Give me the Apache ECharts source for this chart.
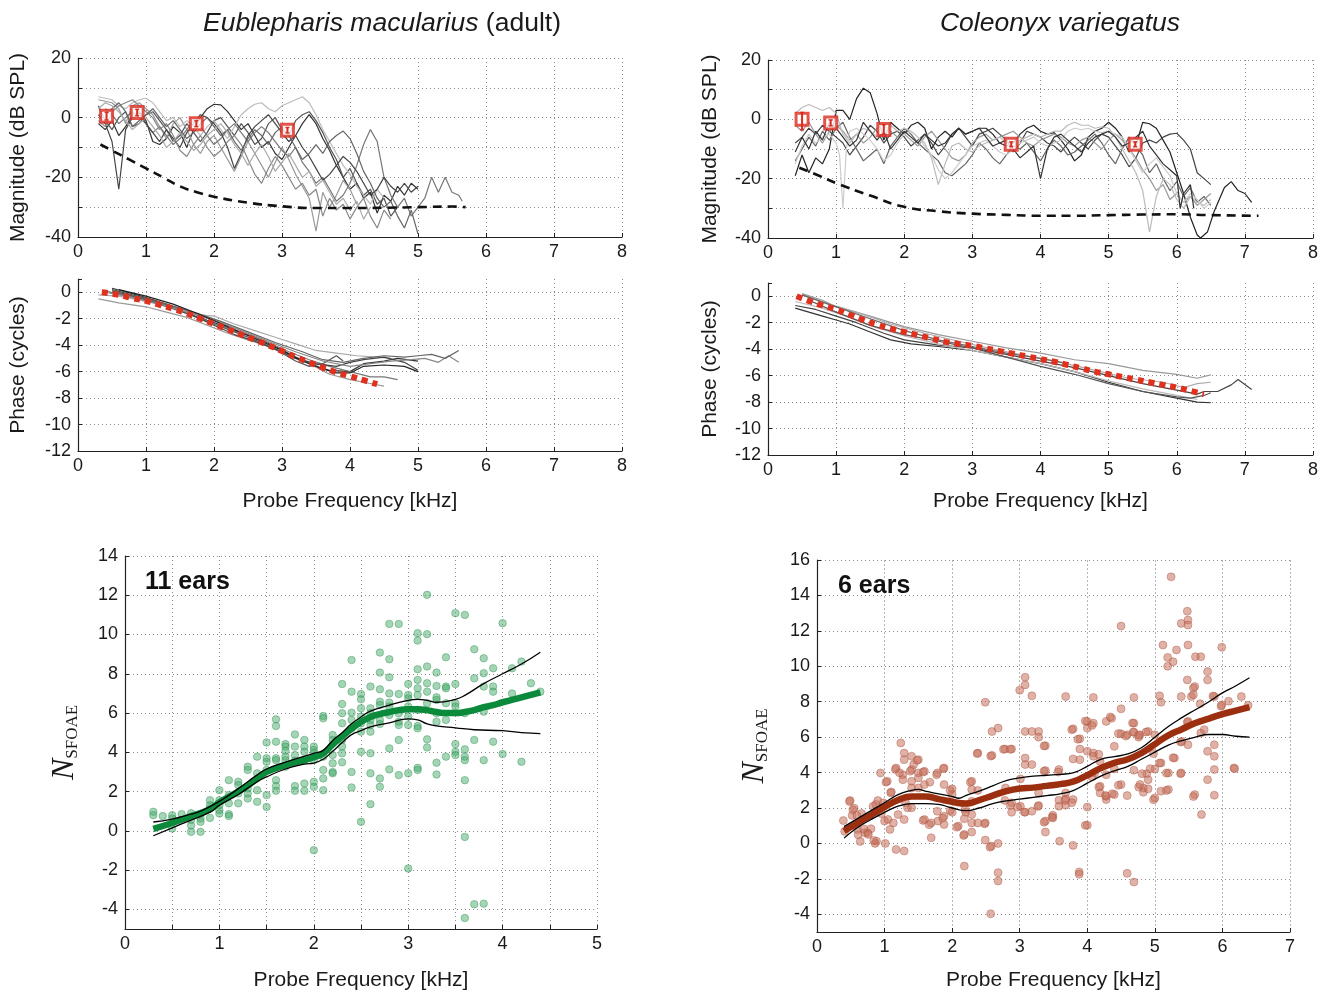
<!DOCTYPE html>
<html><head><meta charset="utf-8">
<script src="https://cdn.jsdelivr.net/npm/echarts@6/dist/echarts.min.js"></script>
<style>html,body{margin:0;padding:0;background:#fff}#c{width:1324px;height:993px}</style>
</head><body><div id="c"></div>
<script>
// ---------- DATA ----------
// Eublepharis magnitude curves [kHz, dB SPL]
const eubMag1 = [[0.3,-2],[0.4,-4],[0.5,-1],[0.6,-6],[0.7,-3],[0.8,1],[0.9,2],[1.0,-1],[1.1,-8],[1.2,-9],[1.3,-7],[1.4,-3],[1.5,-5],[1.6,-10],[1.7,-4],[1.8,0],[1.9,3],[2.0,4.5],[2.1,4.3],[2.2,2],[2.3,-1],[2.4,-4],[2.5,-2],[2.6,-6],[2.7,-10],[2.8,-8],[2.9,-12],[3.0,-14],[3.1,-10],[3.2,-6],[3.3,-2],[3.4,1],[3.5,-2],[3.6,-7],[3.7,-11],[3.8,-16],[3.9,-20],[4.0,-24],[4.1,-22],[4.2,-27],[4.3,-25],[4.4,-32],[4.5,-26],[4.6,-28],[4.7,-23],[4.8,-26],[4.9,-22],[5.0,-24]];
const eubMag2 = [[0.3,4],[0.4,-1],[0.5,-4],[0.6,0],[0.7,2],[0.8,-3],[0.9,-1],[1.0,1],[1.1,2],[1.2,-1],[1.3,-4],[1.4,-8],[1.5,-6],[1.6,-2],[1.7,-5],[1.8,-8],[1.9,-5],[2.0,-1],[2.1,0],[2.2,-3],[2.3,-6],[2.4,-2],[2.5,-5],[2.6,-9],[2.7,-7],[2.8,-2],[2.9,0],[3.0,-4],[3.1,-6],[3.2,-1],[3.3,1],[3.4,2],[3.5,-1],[3.6,-5],[3.7,-10],[3.8,-14],[3.9,-20],[4.0,-17],[4.1,-22],[4.2,-26],[4.3,-24],[4.4,-29],[4.5,-27],[4.6,-33],[4.7,-30]];
const eubMag3 = [[0.3,6],[0.5,5],[0.6,3],[0.7,-2],[0.8,4],[0.9,5],[1.0,3],[1.1,1],[1.2,-3],[1.3,-7],[1.4,-2],[1.5,0],[1.6,-4],[1.7,-9],[1.8,-12],[1.9,-8],[2.0,-6],[2.1,-10],[2.2,-14],[2.3,-18],[2.4,-13],[2.5,-8],[2.6,-12],[2.7,-16],[2.8,-20],[2.9,-15],[3.0,-10],[3.1,-14],[3.2,-19],[3.3,-23],[3.4,-27],[3.5,-38],[3.6,-25],[3.7,-30],[3.8,-26],[3.9,-21],[4.0,-24],[4.1,-29]];
const eubMag4 = [[0.3,7],[0.4,6.5],[0.5,6],[0.6,4],[0.7,3],[0.8,5],[0.9,6],[1.0,6.5],[1.1,5],[1.2,2],[1.3,-1],[1.4,0],[1.5,-3],[1.6,-1],[1.7,-3],[1.8,-6],[1.9,-3],[2.0,-1],[2.1,-4],[2.2,-7],[2.3,-3],[2.4,1],[2.5,3],[2.6,4.5],[2.7,5],[2.8,3],[2.9,2],[3.0,4],[3.1,5],[3.2,6],[3.3,7],[3.4,5],[3.5,1],[3.6,-4],[3.7,-8],[3.8,-12],[3.9,-16],[4.0,-19],[4.1,-23],[4.2,-26],[4.3,-29],[4.4,-24],[4.5,-27]];
const eubMag5 = [[0.4,3],[0.5,1],[0.6,-2],[0.7,0],[0.8,2],[0.9,0],[1.0,-2],[1.1,-5],[1.2,-3],[1.3,-6],[1.4,-9],[1.5,-7],[1.6,-4],[1.7,-1],[1.8,-3],[1.9,-6],[2.0,-9],[2.1,-7],[2.2,-4],[2.3,-2],[2.4,-5],[2.5,-8],[2.6,-5],[2.7,-3],[2.8,-5],[2.9,-8],[3.0,-11],[3.1,-13],[3.2,-10],[3.3,-15],[3.4,-18],[3.5,-22],[3.6,-20],[3.7,-24],[3.8,-28],[3.9,-26],[4.0,-22],[4.1,-16],[4.2,-9],[4.3,-4],[4.4,-8],[4.5,-20],[4.6,-26],[4.7,-30],[4.8,-27],[4.9,-33],[5.0,-30],[5.1,-27],[5.2,-20],[5.3,-25],[5.4,-20],[5.5,-25],[5.6,-26],[5.65,-28]];
const eubMag6 = [[0.3,1],[0.4,-2],[0.5,-8],[0.6,-24],[0.7,-4],[0.8,0],[0.9,1.5],[1.0,-2],[1.1,-5],[1.2,-8],[1.3,-4],[1.4,-7],[1.5,-10],[1.6,-5],[1.7,-2],[1.8,1],[1.9,0],[2.0,-2],[2.1,-5],[2.2,-10],[2.3,-17],[2.4,-12],[2.5,-6],[2.6,-3],[2.7,-1],[2.8,1],[2.9,-2],[3.0,-5],[3.1,-8],[3.2,-6],[3.3,-10],[3.4,-13],[3.5,-17],[3.6,-21],[3.7,-19],[3.8,-16],[3.9,-13],[4.0,-15],[4.1,-18],[4.2,-22],[4.3,-26],[4.4,-24],[4.5,-20],[4.6,-23],[4.7,-25],[4.8,-22],[4.9,-25],[5.0,-23]];
const eubMag7 = [[0.3,-1],[0.4,-3],[0.5,2],[0.6,4],[0.7,5],[0.8,6],[0.9,4],[1.0,2],[1.1,0],[1.2,-4],[1.3,-2],[1.4,-6],[1.5,-11],[1.6,-13],[1.7,-9],[1.8,-6],[1.9,-10],[2.0,-13],[2.1,-11],[2.2,-8],[2.3,-6],[2.4,-9],[2.5,-14],[2.6,-19],[2.7,-22],[2.8,-17],[2.9,-13],[3.0,-16],[3.1,-20],[3.2,-24],[3.3,-22],[3.4,-26],[3.5,-24],[3.6,-33],[3.7,-27],[3.8,-31],[3.9,-29],[4.0,-34],[4.1,-30],[4.2,-27],[4.3,-33],[4.4,-37],[4.5,-31],[4.6,-34]];
const eubMag8 = [[0.4,0],[0.5,3],[0.6,5],[0.7,2],[0.8,-3],[0.9,-2],[1.0,1],[1.1,3],[1.2,0],[1.3,-3],[1.4,-1],[1.5,-4],[1.6,-7],[1.7,-5],[1.8,-2],[1.9,0],[2.0,-3],[2.1,-6],[2.2,-4],[2.3,-8],[2.4,-11],[2.5,-7],[2.6,-4],[2.7,-6],[2.8,-9],[2.9,-5],[3.0,-3],[3.1,-6],[3.2,-10],[3.3,-14],[3.4,-12],[3.5,-9],[3.6,-12],[3.7,-8],[3.8,-6],[3.9,-4.5],[4.0,-7],[4.1,-12],[4.2,-18],[4.3,-22],[4.4,-27],[4.5,-30],[4.6,-28],[4.7,-33],[4.8,-37],[4.9,-31],[5.0,-39]];
const eubMag9 = [[0.3,3],[0.4,5],[0.5,4],[0.6,2],[0.7,-1],[0.8,-4],[0.9,-2],[1.0,0],[1.1,-3],[1.2,-6],[1.3,-10],[1.4,-8],[1.5,-5],[1.6,-8],[1.7,-11],[1.8,-9],[1.9,-6],[2.0,-4],[2.1,-2],[2.2,-5],[2.3,-9],[2.4,-12],[2.5,-16],[2.6,-12],[2.7,-9],[2.8,-13],[2.9,-18],[3.0,-15],[3.1,-12],[3.2,-16],[3.3,-20],[3.4,-18],[3.5,-23],[3.6,-21],[3.7,-25],[3.8,-29],[3.9,-27],[4.0,-31],[4.1,-28],[4.2,-34],[4.3,-30]];
const eubMagShades = ['#333','#555','#999','#bbb','#777','#444','#888','#666','#aaa'];
const eubNoise = [[0.33,-9],[0.5,-11],[0.75,-14],[1.0,-17],[1.25,-20],[1.5,-23],[1.75,-25],[2.0,-26.5],[2.5,-28.5],[3.0,-29.7],[3.5,-30.3],[4.0,-30.3],[4.5,-30.2],[5.0,-30],[5.5,-29.8],[5.7,-30]];
// [kHz, mean, low, high]
const eubMagMean = [[0.42,0.5,-0.8,1.8],[0.87,1.7,0.6,2.8],[1.74,-2,-3,-1],[3.08,-4.2,-5.1,-3.3]];

// Eublepharis phase curves [kHz, cycles]
const eubPh1 = [[0.5,0.3],[0.8,-0.1],[1.0,-0.4],[1.3,-0.9],[1.6,-1.5],[1.8,-2.0],[2.0,-2.3],[2.3,-2.9],[2.6,-3.4],[2.9,-4.1],[3.2,-4.9],[3.5,-5.6],[3.7,-5.9],[4.0,-6.0],[4.2,-5.4],[4.5,-5.2],[4.7,-5.0],[5.0,-5.2]];
const eubPh2 = [[0.5,0.2],[0.8,-0.2],[1.1,-0.6],[1.4,-1.1],[1.7,-1.6],[2.0,-2.4],[2.3,-3.0],[2.6,-3.6],[2.9,-4.3],[3.2,-5.2],[3.4,-5.6],[3.6,-5.4],[3.8,-4.8],[3.9,-5.2]];
const eubPh3 = [[0.3,-0.5],[0.6,-0.8],[1.0,-1.1],[1.3,-1.5],[1.6,-1.9],[1.9,-2.5],[2.2,-3.1],[2.5,-3.6],[2.8,-4.1],[3.1,-4.8],[3.4,-5.4],[3.7,-6.2],[4.0,-6.6],[4.3,-6.9],[4.5,-7.1]];
const eubPh4 = [[0.3,-0.2],[0.6,-0.3],[0.9,-0.6],[1.2,-0.9],[1.5,-1.3],[1.8,-1.7],[2.0,-1.8],[2.3,-2.4],[2.6,-2.9],[2.9,-3.4],[3.2,-3.9],[3.5,-4.4],[3.8,-4.6],[4.1,-4.8],[4.4,-4.9],[4.6,-5.0]];
const eubPh5 = [[0.4,0.1],[0.7,-0.3],[1.0,-0.6],[1.3,-1.1],[1.6,-1.6],[1.9,-2.2],[2.2,-2.7],[2.5,-3.2],[2.8,-3.8],[3.1,-4.5],[3.4,-5.1],[3.7,-5.6],[4.0,-6.0],[4.3,-6.4],[4.5,-6.4],[4.7,-6.6]];
const eubPh6 = [[0.5,0.1],[0.8,-0.3],[1.1,-0.7],[1.4,-1.2],[1.7,-1.8],[2.0,-2.5],[2.3,-3.2],[2.6,-3.7],[2.9,-4.3],[3.2,-5.0],[3.5,-5.4],[3.8,-5.6],[4.0,-5.3],[4.2,-5.1],[4.5,-4.9],[4.8,-5.3],[5.0,-5.9]];
const eubPh7 = [[0.4,0.0],[0.8,-0.4],[1.2,-0.9],[1.6,-1.5],[2.0,-2.1],[2.4,-2.9],[2.8,-3.7],[3.2,-4.5],[3.6,-5.2],[4.0,-5.6],[4.3,-5.4],[4.6,-5.2],[4.9,-5.1],[5.1,-5.0],[5.3,-5.3],[5.45,-4.8],[5.6,-5.3]];
const eubPh8 = [[0.5,0.0],[0.9,-0.4],[1.3,-0.9],[1.7,-1.5],[2.1,-2.2],[2.5,-3.0],[2.9,-3.8],[3.3,-4.5],[3.6,-5.1],[3.9,-5.3],[4.2,-5.0],[4.5,-4.8],[4.8,-4.9],[5.0,-4.8],[5.2,-4.7],[5.4,-5.0],[5.6,-4.4]];
const eubPh9 = [[0.6,0.2],[1.0,-0.3],[1.4,-0.9],[1.8,-1.7],[2.2,-2.6],[2.6,-3.5],[3.0,-4.4],[3.3,-5.2],[3.6,-5.8],[3.8,-6.1],[4.0,-6.1],[4.2,-5.6],[4.5,-5.5],[4.8,-5.6],[5.0,-6.0]];
const eubPhShades = ['#333','#555','#999','#aaa','#777','#444','#888','#666','#222'];
const eubPhFit = [[0.35,0],[0.6,-0.2],[0.8,-0.45],[1.0,-0.65],[1.2,-0.95],[1.4,-1.25],[1.6,-1.6],[1.8,-2.0],[2.0,-2.4],[2.2,-2.8],[2.4,-3.2],[2.6,-3.6],[2.8,-4.0],[3.0,-4.45],[3.2,-4.9],[3.4,-5.3],[3.6,-5.7],[3.8,-6.05],[4.0,-6.35],[4.2,-6.65],[4.4,-6.95]];

// Coleonyx magnitude curves
const colMag1 = [[0.4,-19],[0.5,-12],[0.6,-18],[0.7,-13],[0.8,-15],[0.9,-10],[1.0,3],[1.1,3],[1.2,0],[1.3,7],[1.4,10.5],[1.5,9],[1.6,2],[1.7,-7],[1.8,-1],[1.9,-3],[2.0,-5],[2.1,-2],[2.2,-1],[2.3,-3],[2.4,-10],[2.5,-6],[2.6,-4],[2.7,-6],[2.8,-3],[2.9,-5],[3.0,-4],[3.1,-3],[3.2,-3],[3.3,-5],[3.4,-8],[3.5,-9],[3.6,-8],[3.7,-5],[3.8,-3],[3.9,-2],[4.0,-4],[4.1,-5],[4.2,-4.5],[4.3,-7],[4.4,-10],[4.5,-14],[4.6,-12],[4.7,-6],[4.8,-4],[4.9,-3],[5.0,-1],[5.1,-3],[5.2,-6],[5.3,-11],[5.4,-9],[5.5,-1],[5.6,-1.5],[5.7,-3],[5.8,-7],[5.9,-11],[6.0,-18],[6.1,-25],[6.2,-33],[6.3,-39],[6.35,-40],[6.45,-38],[6.55,-31],[6.7,-23],[6.8,-21],[6.9,-24],[7.0,-25],[7.1,-28]];
const colMag2 = [[0.4,-8],[0.5,-6],[0.6,-3],[0.7,-5],[0.8,-2],[0.9,-4],[1.0,-6],[1.1,-8],[1.2,-12],[1.3,-9],[1.4,-6],[1.5,-2],[1.6,-4],[1.7,-8],[1.8,-5],[1.9,-4],[2.0,-6],[2.1,-9],[2.2,-7],[2.3,-5],[2.4,-8],[2.5,-12],[2.6,-9],[2.7,-5],[2.8,-3],[2.9,-6],[3.0,-9],[3.1,-5],[3.2,-4],[3.3,-3],[3.4,-5],[3.5,-7],[3.6,-11],[3.7,-8],[3.8,-4],[3.9,-5],[4.0,-6],[4.1,-8],[4.2,-9],[4.3,-11],[4.4,-8],[4.5,-6],[4.6,-8],[4.7,-10],[4.8,-7],[4.9,-5],[5.0,-6],[5.1,-9],[5.2,-12],[5.3,-16],[5.4,-13],[5.5,-8],[5.6,-7],[5.7,-8],[5.8,-6],[5.9,-5],[6.0,-4.7],[6.1,-7],[6.2,-10],[6.3,-18],[6.4,-20],[6.5,-22]];
const colMag3 = [[0.4,-14],[0.5,-10],[0.6,-6],[0.7,-9],[0.8,-4],[0.9,-7],[1.0,-3],[1.1,-1],[1.2,-6],[1.3,-10],[1.4,-14],[1.5,-12],[1.6,-10],[1.7,-15],[1.8,-9],[1.9,-6],[2.0,-3],[2.1,-5],[2.2,-8],[2.3,-10],[2.4,-12],[2.5,-14],[2.6,-18],[2.7,-19],[2.8,-17],[2.9,-15],[3.0,-12],[3.1,-8],[3.2,-10],[3.3,-13],[3.4,-15],[3.5,-12],[3.6,-9],[3.7,-10],[3.8,-8],[3.9,-11],[4.0,-14],[4.1,-10],[4.2,-7],[4.3,-9],[4.4,-12],[4.5,-11],[4.6,-9],[4.7,-7],[4.8,-5],[4.9,-8],[5.0,-12],[5.1,-15],[5.2,-10],[5.3,-6],[5.4,-9],[5.5,-12],[5.6,-18],[5.7,-15],[5.8,-20],[5.9,-24],[6.0,-21],[6.1,-26],[6.2,-23],[6.3,-28],[6.4,-26],[6.5,-29]];
const colMag4 = [[0.4,-2],[0.5,-4],[0.6,-1],[0.7,-5],[0.8,-8],[0.9,-4],[1.0,-2],[1.1,-4],[1.2,-7],[1.3,-5],[1.4,-8],[1.5,-6],[1.6,-3],[1.7,-2],[1.8,-4],[1.9,-6],[2.0,-5],[2.1,-7],[2.2,-9],[2.3,-6],[2.4,-4],[2.5,-7],[2.6,-10],[2.7,-13],[2.8,-14],[2.9,-12],[3.0,-8],[3.1,-6],[3.2,-5],[3.3,-7],[3.4,-6],[3.5,-5],[3.6,-4],[3.7,-6],[3.8,-8],[3.9,-9],[4.0,-7],[4.1,-6],[4.2,-5],[4.3,-6],[4.4,-8],[4.5,-9],[4.6,-7],[4.7,-6],[4.8,-8],[4.9,-10],[5.0,-7],[5.1,-5],[5.2,-7],[5.3,-10],[5.4,-13],[5.5,-17],[5.6,-20],[5.7,-24],[5.8,-22],[5.9,-27],[6.0,-25],[6.1,-28],[6.2,-26],[6.3,-29],[6.4,-27],[6.5,-25]];
const colMag5 = [[0.4,2],[0.5,4],[0.6,5],[0.7,4],[0.8,3],[0.9,4],[1.0,2],[1.1,-5],[1.2,-8],[1.3,-5],[1.4,-3],[1.5,-4],[1.6,-6],[1.7,-4],[1.8,-2],[1.9,-4],[2.0,-3],[2.1,-4],[2.2,-6],[2.3,-8],[2.4,-13],[2.5,-22],[2.6,-15],[2.7,-9],[2.8,-8],[2.9,-10],[3.0,-11],[3.1,-9],[3.2,-8],[3.3,-7],[3.4,-6],[3.5,-8],[3.6,-9],[3.7,-7],[3.8,-6],[3.9,-5],[4.0,-6],[4.1,-5],[4.2,-4],[4.3,-4],[4.4,-2],[4.5,-1],[4.6,-2],[4.7,-2],[4.8,-3],[4.9,-2.5],[5.0,-3],[5.1,-6],[5.2,-10],[5.3,-14],[5.4,-18],[5.5,-24],[5.6,-38],[5.7,-26],[5.8,-20],[5.9,-22],[6.0,-27],[6.1,-30],[6.2,-26],[6.3,-28],[6.4,-29],[6.5,-27]];
const colMag6 = [[0.4,-15],[0.5,-9],[0.6,-5],[0.7,-8],[0.8,-6],[0.9,-5],[1.0,-8],[1.05,-12],[1.1,-30],[1.15,-10],[1.2,-4],[1.3,-3],[1.4,-5],[1.5,-7],[1.6,-10],[1.7,-14],[1.8,-12],[1.9,-8],[2.0,-5],[2.1,-4],[2.2,-6],[2.3,-9],[2.4,-12],[2.5,-17],[2.6,-20],[2.7,-18],[2.8,-15],[2.9,-12],[3.0,-9],[3.1,-8],[3.2,-7],[3.3,-9],[3.4,-11],[3.5,-12],[3.6,-10],[3.7,-8],[3.8,-7],[3.9,-6],[4.0,-8],[4.1,-9],[4.2,-8],[4.3,-7],[4.4,-4],[4.5,-3],[4.6,-3.5],[4.7,-3],[4.8,-4],[4.9,-4.5],[5.0,-4],[5.1,-5],[5.2,-6],[5.3,-10],[5.4,-14],[5.5,-18],[5.6,-15],[5.7,-13],[5.8,-16],[5.9,-19],[6.0,-25],[6.1,-28],[6.2,-25],[6.3,-27],[6.4,-30],[6.5,-28]];
const colMag7 = [[0.4,-11],[0.5,-6],[0.6,-10],[0.7,-4],[0.8,-7],[0.9,-1],[1.0,-3],[1.1,-6],[1.2,-9],[1.3,-7],[1.4,-1],[1.5,-4],[1.6,-7],[1.7,-4],[1.8,-10],[1.9,-7],[2.0,-4],[2.1,-6],[2.2,-8],[2.3,-5],[2.4,-7],[2.5,-9],[2.6,-8],[2.7,-5],[2.8,-3],[2.9,-5],[3.0,-4],[3.1,-3],[3.2,-6],[3.3,-9],[3.4,-8],[3.5,-7],[3.6,-10],[3.7,-13],[3.8,-11],[3.9,-9],[4.0,-20],[4.1,-10],[4.2,-6],[4.3,-5],[4.4,-7],[4.5,-9],[4.6,-11],[4.7,-8],[4.8,-6],[4.9,-5],[5.0,-4],[5.1,-6],[5.2,-9],[5.3,-8],[5.4,-6],[5.5,-4],[5.6,-9],[5.7,-12],[5.8,-15],[5.9,-17],[6.0,-19],[6.05,-30],[6.1,-25],[6.2,-22],[6.25,-30]];
const colMagShades = ['#222','#444','#666','#999','#bbb','#ccc','#333'];
const colNoise = [[0.46,-16.3],[0.75,-19],[1.0,-21.5],[1.5,-25.7],[2.0,-29.5],[2.5,-31],[3.0,-31.8],[3.5,-32.2],[4.0,-32.5],[4.5,-32.5],[5.0,-32.3],[5.5,-32.1],[6.0,-32],[6.5,-32.3],[7.2,-32.5]];
const colMagMean = [[0.5,0,-3.5,2.3],[0.92,-1.2,-2.2,-0.2],[1.7,-3.4,-5,-1.8],[3.57,-8.4,-9.2,-7.6],[5.39,-8.4,-9.2,-7.6]];

// Coleonyx phase curves
const colPh1 = [[0.4,-0.9],[0.6,-1.2],[0.8,-1.5],[1.0,-1.8],[1.2,-2.1],[1.5,-2.7],[1.8,-3.3],[2.1,-3.6],[2.5,-3.8],[3.0,-4.1],[3.5,-4.6],[4.0,-5.1],[4.5,-5.7],[5.0,-6.5],[5.5,-7.2],[6.0,-7.7],[6.3,-8.0],[6.5,-8.05]];
const colPh2 = [[0.4,-0.7],[0.7,-1.0],[1.0,-1.5],[1.3,-2.0],[1.7,-2.8],[2.0,-3.3],[2.5,-3.7],[3.0,-3.9],[3.5,-4.4],[4.0,-4.9],[4.5,-5.4],[5.0,-6.0],[5.5,-6.6],[6.0,-7.1],[6.3,-7.4],[6.4,-7.2],[6.6,-7.2],[6.8,-6.7],[6.9,-6.3],[7.1,-7.05]];
const colPh3 = [[0.5,0.2],[0.8,-0.3],[1.0,-0.8],[1.5,-1.5],[2.0,-2.3],[2.5,-2.9],[3.0,-3.4],[3.5,-3.9],[4.0,-4.3],[4.5,-4.8],[5.0,-5.1],[5.5,-5.6],[6.0,-5.9],[6.3,-6.2],[6.5,-5.95]];
const colPh4 = [[0.5,0.1],[0.9,-0.6],[1.3,-1.2],[1.8,-2.1],[2.3,-2.8],[2.8,-3.4],[3.3,-4.0],[3.8,-4.5],[4.3,-5.0],[4.8,-5.6],[5.3,-6.2],[5.8,-6.5],[6.1,-6.9],[6.3,-6.6],[6.5,-6.5]];
const colPh5 = [[0.4,-0.4],[0.8,-0.9],[1.2,-1.6],[1.6,-2.4],[2.0,-3.0],[2.5,-3.6],[3.0,-4.1],[3.5,-4.6],[4.0,-5.1],[4.5,-5.7],[5.0,-6.4],[5.5,-7.0],[6.0,-7.5],[6.3,-7.8]];
const colPh6 = [[0.5,0.1],[1.0,-0.8],[1.5,-1.7],[2.0,-2.6],[2.5,-3.3],[3.0,-3.8],[3.5,-4.3],[4.0,-4.7],[4.4,-5.1]];
const colPh7 = [[0.6,-0.3],[1.0,-1.2],[1.5,-2.2],[2.0,-2.9],[2.5,-3.4],[3.0,-3.9],[3.5,-4.6],[4.0,-5.3],[4.5,-5.9],[5.0,-6.6],[5.5,-7.2],[6.0,-7.6],[6.2,-7.7],[6.4,-7.5],[6.5,-7.3]];
const colPhShades = ['#333','#444','#999','#aaa','#bbb','#666','#555'];
const colPhFit = [[0.42,0],[0.6,-0.35],[0.8,-0.7],[1.0,-1.0],[1.2,-1.4],[1.4,-1.8],[1.6,-2.15],[1.8,-2.45],[2.0,-2.7],[2.2,-2.95],[2.4,-3.2],[2.6,-3.45],[2.8,-3.6],[3.0,-3.75],[3.2,-3.95],[3.4,-4.15],[3.6,-4.35],[3.8,-4.55],[4.0,-4.75],[4.2,-4.95],[4.4,-5.2],[4.6,-5.45],[4.8,-5.7],[5.0,-5.9],[5.2,-6.1],[5.4,-6.3],[5.6,-6.5],[5.8,-6.7],[6.0,-6.9],[6.2,-7.15],[6.4,-7.4]];

// N_SFOAE, Eublepharis: frequency columns and values at each
const eubNFreqs = [0.3,0.4,0.5,0.6,0.7,0.8,0.9,1.0,1.1,1.2,1.3,1.4,1.5,1.6,1.7,1.8,1.9,2.0,2.1,2.2,2.3,2.4,2.5,2.6,2.7,2.8,2.9,3.0,3.1,3.2,3.3,3.4,3.5,3.6,3.7,3.8,3.9,4.0,4.1,4.2,4.3,4.4];
const eubNValues = [
 [0.97,0.8],[0.75],[0.8,0.63,0.12],[0.85],[0.9,0.55,0.27,-0.05],[0.85,0.63,0.46,-0.05],[1.56,1.3,1.14,0.66],
 [2.07,1.56,1.3,1.05,0.88],[2.58,1.82,1.4,0.85,0.75],[2.5,2.33,1.9,1.4],[3.27,3.1,2.16,1.9,1.65],[3.78,2.93,2.07,1.48],
 [4.5,3.7,3.52,3.1,1.82,1.22],[5.68,5.34,4.54,3.7,3.6,2.58,2.28,2.04],[4.42,4.29,4.08,3.78,3.6,3.27],[4.91,4.29,3.86,3.57,2.28,2.04],
 [4.63,4.29,4.03,3.6,2.41,2.04],[4.29,4.12,3.95,3.6,2.5,2.24,-0.99],[5.85,5.73,3.78,3.1,2.67,2.07],[4.88,4.63,3.86,3.44,3.0,2.93],
 [7.48,6.46,5.99,5.48,4.63,4.29,3.95,3.49],[8.7,7.09,6.02,5.65,5.22,3.0,2.21],[6.97,6.7,6.24,5.82,5.48,5.05,4.03,0.46],
 [7.35,6.24,5.99,5.65,5.39,5.05,3.95,2.93,1.36],[9.08,8.06,7.21,6.58,6.41,5.65,5.44,2.67,2.24],[10.54,8.74,7.82,7.0,6.53,6.33,5.9,4.2,3.13],
 [10.54,6.97,5.99,5.56,5.39,4.63,2.84],[7.48,6.92,6.75,6.33,5.82,5.39,2.93,-1.92],[10.07,9.69,8.23,7.69,7.26,6.92,6.16,5.34,5.22,3.21,3.1],
 [12.02,10.02,8.37,7.52,7.09,6.5,4.66,4.25],[8.06,7.38,6.8,6.67,5.99,5.56,3.47,2.87],[8.84,7.35,7.26,6.5,5.65,3.78],
 [11.09,7.48,6.5,6.33,4.42,4.03,3.86],[11.0,5.99,4.15,3.78,3.6,2.58,-0.31,-4.44],[9.25,7.77,4.63,-3.74],[8.79,8.03,7.35,6.07,3.6,-3.71],
 [8.28,7.35,7.09,4.54],[10.58,3.91],[8.28,7.0],[8.62,3.52],[7.52],[7.09]
];
const eubNFit = [[0.3,0.1],[0.5,0.4],[0.7,0.75],[0.9,1.1],[1.0,1.45],[1.2,2.0],[1.4,2.65],[1.5,3.0],[1.7,3.35],[1.9,3.6],[2.0,3.75],[2.1,3.95],[2.2,4.4],[2.3,4.8],[2.4,5.2],[2.5,5.55],[2.6,5.8],[2.7,5.95],[2.8,6.05],[2.9,6.15],[3.0,6.2],[3.1,6.2],[3.2,6.15],[3.3,6.05],[3.4,6.0],[3.5,6.0],[3.6,6.05],[3.7,6.15],[3.8,6.3],[3.9,6.4],[4.0,6.55],[4.2,6.8],[4.4,7.05]];
const eubNUpper = [[0.3,0.45],[0.5,0.6],[0.7,0.85],[0.8,1.0],[1.0,1.5],[1.2,2.15],[1.4,2.85],[1.5,3.15],[1.7,3.5],[2.0,3.95],[2.1,4.1],[2.2,4.6],[2.3,5.0],[2.4,5.45],[2.5,5.8],[2.6,6.1],[2.8,6.4],[3.0,6.65],[3.1,6.7],[3.2,6.65],[3.3,6.55],[3.5,6.7],[3.6,6.9],[3.8,7.5],[4.0,8.0],[4.2,8.5],[4.4,9.1]];
const eubNLower = [[0.3,-0.25],[0.5,0.15],[0.7,0.55],[0.9,0.95],[1.0,1.3],[1.2,1.85],[1.4,2.5],[1.5,2.75],[1.7,3.15],[1.9,3.4],[2.0,3.45],[2.1,3.65],[2.2,4.05],[2.3,4.5],[2.4,4.9],[2.5,5.1],[2.6,5.3],[2.8,5.5],[3.0,5.7],[3.1,5.65],[3.2,5.45],[3.3,5.35],[3.5,5.25],[3.7,5.15],[4.0,5.1],[4.2,5.0],[4.4,4.95]];

// N_SFOAE, Coleonyx [kHz, N]
const colNPoints = [[0.39,1.29],[0.41,0.68],[0.49,2.42],[0.52,1.58],[0.55,1.99],[0.58,1.07],[0.6,0.79],[0.61,0.49],[0.64,0.11],[0.66,1.69],[0.71,0.6],[0.75,0.6],[0.8,0.83],[0.83,2.1],[0.87,2.2],[0.88,0.13],[0.86,0.0],[0.9,2.42],[0.94,3.98],[0.95,1.69],[0.98,2.29],[1.0,1.26],[1.01,0.0],[1.04,3.51],[1.05,1.35],[1.08,0.79],[1.1,2.91],[1.13,1.16],[1.17,4.26],[1.17,-0.34],[1.2,1.63],[1.24,5.67],[1.27,3.88],[1.29,5.1],[1.29,4.73],[1.29,1.35],[1.29,-0.43],[1.31,2.29],[1.34,2.01],[1.4,4.92],[1.4,4.17],[1.4,3.51],[1.4,3.13],[1.4,2.01],[1.43,4.45],[1.5,4.73],[1.5,3.98],[1.5,3.7],[1.5,3.13],[1.59,4.07],[1.59,3.32],[1.59,1.35],[1.69,0.32],[1.69,1.16],[1.78,3.98],[1.78,1.82],[1.79,1.26],[1.88,4.26],[1.88,3.32],[1.88,1.54],[1.88,1.07],[2.0,3.08],[2.0,2.76],[2.0,1.76],[2.09,0.98],[2.18,-1.28],[2.18,0.51],[2.19,1.91],[2.2,1.76],[2.29,1.63],[2.29,2.38],[2.29,1.16],[2.29,0.64],[2.29,3.51],[2.29,3.05],[2.38,1.16],[2.38,5.1],[2.49,7.97],[2.49,1.16],[2.49,0.19],[2.59,6.32],[2.59,4.97],[2.58,-0.15],[2.68,6.51],[2.68,-2.12],[2.68,-1.65],[2.68,0.0],[2.78,5.33],[2.79,3.13],[2.88,5.33],[2.88,2.29],[2.88,1.76],[3.0,8.65],[3.01,3.64],[3.01,2.1],[3.08,9.38],[3.08,8.95],[3.08,6.32],[3.08,4.82],[3.08,4.45],[3.08,1.76],[3.18,8.33],[3.18,6.32],[3.18,4.45],[3.18,1.82],[3.28,6.32],[3.28,6.0],[3.28,2.14],[3.28,2.85],[3.38,5.52],[3.38,4.11],[3.38,1.26],[3.38,0.64],[3.49,1.59],[3.49,1.44],[3.58,4.17],[3.58,2.44],[3.58,2.1],[3.59,0.13],[3.68,8.29],[3.68,2.85],[3.68,2.51],[3.68,2.16],[3.79,6.47],[3.79,4.77],[3.79,2.48],[3.79,-0.11],[3.89,5.91],[3.89,5.33],[3.89,4.73],[3.88,-1.61],[3.88,-1.74],[4.0,6.89],[4.0,6.51],[4.0,5.2],[4.0,2.05],[4.0,1.03],[4.09,8.24],[4.09,6.79],[4.09,5.1],[4.09,4.92],[4.11,3.98],[4.19,4.63],[4.19,3.23],[4.19,2.85],[4.28,6.89],[4.28,3.88],[4.28,2.48],[4.28,2.66],[4.36,7.07],[4.4,5.48],[4.4,4.2],[4.4,2.76],[4.5,7.6],[4.5,12.27],[4.5,6.19],[4.5,3.32],[4.59,6.13],[4.59,-1.69],[4.59,2.7],[4.69,8.24],[4.69,6.79],[4.69,6.27],[4.69,4.13],[4.69,-2.18],[4.78,6.13],[4.83,3.13],[4.83,2.89],[4.88,3.94],[4.9,6.32],[4.9,3.6],[4.9,3.08],[5.0,4.2],[5.0,2.57],[5.0,6.13],[5.07,8.33],[5.09,7.97],[5.09,2.95],[5.09,4.54],[5.12,11.2],[5.19,10.5],[5.19,10.0],[5.2,3.98],[5.2,3.04],[5.24,15.05],[5.27,10.26],[5.29,4.82],[5.32,10.92],[5.39,8.29],[5.39,3.98],[5.39,12.42],[5.4,5.76],[5.48,13.11],[5.49,12.61],[5.49,12.33],[5.49,11.2],[5.48,9.23],[5.49,6.89],[5.49,5.57],[5.54,8.29],[5.59,8.86],[5.6,10.54],[5.68,10.54],[5.59,2.76],[5.69,1.63],[5.68,6.23],[5.73,6.42],[5.78,9.7],[5.78,9.23],[5.78,5.2],[5.78,3.6],[5.88,8.29],[5.88,5.57],[5.88,4.92],[5.88,4.17],[5.88,2.72],[5.99,11.07],[5.99,7.82],[6.09,8.03],[6.17,4.26],[6.28,8.29],[6.38,7.8],
 [0.48,2.37],[0.53,1.9],[0.59,1.58],[0.69,0.83],[0.76,0.51],[0.84,0.17],[1.02,3.46],[1.09,2.86],[1.16,4.18],[1.22,3.99],[1.27,3.6],[1.38,4.08],[1.48,4.69],[1.57,4.03],[1.67,3.46],[1.77,3.88],[1.87,4.22],[1.97,2.99],[2.07,0.92],[2.17,0.45],[2.27,3.46],[2.37,5.07],[1.57,1.3],[1.66,1.06],[1.86,1.43],[1.97,1.86],[2.18,1.39],
 [2.57,4.93],[2.76,5.31],[2.86,5.31],[3.36,5.5],[3.36,4.08],[3.57,4.03],[3.77,6.42],[3.86,5.88],[3.97,6.91],[4.07,6.66],[4.17,5.03],[4.34,7.14],[4.46,6.2],[4.57,6.06],[4.67,6.8],[4.76,6.0],[2.38,2.99],[2.48,1.11],[2.56,-0.21],[2.57,-3.97],[2.78,2.43],[2.86,2.15],[2.97,2.05],[3.07,1.77],[3.27,2.09],[3.36,1.2],[3.48,1.49],[3.67,2.43],[3.77,2.3],[3.97,1.02],[4.07,3.75],[4.17,3.18],[4.27,2.71],[4.37,2.81],[4.46,3.28],[4.76,3.18],
 [4.68,6.29],[4.76,6.1],[4.87,6.29],[4.98,5.07],[4.81,3.94],[4.93,4.22],[4.78,3.33],[4.98,2.47],[5.07,4.54],[5.17,3.97],[5.17,2.99],[5.27,4.84],[5.38,3.94],[5.38,5.72],[5.48,6.85],[5.57,8.77],[5.57,8.4],[5.67,7.89],[5.86,8.32],[5.57,2.65],[5.98,7.75],[6.18,4.22]];
const colNFit = [[0.4,0.7],[0.6,1.15],[0.8,1.6],[1.0,2.05],[1.2,2.45],[1.4,2.65],[1.6,2.65],[1.8,2.5],[2.0,2.35],[2.2,2.25],[2.4,2.45],[2.6,2.7],[2.8,2.95],[3.0,3.1],[3.2,3.15],[3.4,3.25],[3.6,3.35],[3.8,3.5],[4.0,3.85],[4.2,4.25],[4.4,4.55],[4.6,4.75],[4.8,5.1],[5.0,5.6],[5.2,6.1],[5.4,6.45],[5.6,6.8],[5.8,7.05],[6.0,7.3],[6.2,7.5],[6.4,7.7]];
const colNUpper = [[0.4,0.95],[0.6,1.4],[0.8,1.85],[1.0,2.3],[1.2,2.75],[1.4,3.0],[1.5,3.05],[1.6,2.95],[1.8,2.8],[2.0,2.65],[2.1,2.55],[2.2,2.7],[2.4,2.95],[2.6,3.25],[2.8,3.55],[3.0,3.7],[3.2,3.8],[3.4,3.85],[3.6,3.9],[3.8,4.0],[4.0,4.35],[4.2,4.75],[4.4,4.9],[4.6,5.05],[4.8,5.4],[5.0,6.0],[5.2,6.6],[5.4,7.1],[5.6,7.55],[5.8,8.0],[6.0,8.5],[6.2,8.9],[6.4,9.35]];
const colNLower = [[0.4,0.3],[0.6,0.9],[0.8,1.35],[1.0,1.75],[1.2,2.1],[1.4,2.25],[1.6,2.25],[1.8,2.2],[2.0,2.0],[2.2,1.85],[2.4,2.0],[2.6,2.25],[2.8,2.4],[3.0,2.5],[3.2,2.6],[3.4,2.7],[3.6,2.8],[3.8,3.0],[4.0,3.4],[4.2,3.8],[4.4,4.1],[4.6,4.35],[4.8,4.75],[5.0,5.15],[5.2,5.55],[5.4,5.8],[5.6,6.0],[5.8,6.15],[6.0,6.15],[6.2,6.05],[6.4,6.0]];

// ---------- CHART ----------
const FONT = '"Liberation Sans", Arial, Helvetica, sans-serif';
const TXT = '#1a1a1a';
const gridDots = {show:true, lineStyle:{color:'#8c8c8c', type:[1,3], width:1}};

function xAxis(gi, max, interval, opts) {
  return Object.assign({
    type:'value', gridIndex:gi, min:0, max:max, interval:interval,
    axisLine:{show:true, onZero:false, lineStyle:{color:'#222', width:1.2}},
    axisTick:{show:true, inside:true, length:4, lineStyle:{color:'#222'}},
    axisLabel:{color:TXT, fontSize:18, fontFamily:FONT, margin:6},
    splitLine:gridDots
  }, opts||{});
}
function yAxis(gi, min, max, interval, fmt, opts) {
  return Object.assign({
    type:'value', gridIndex:gi, min:min, max:max, interval:interval,
    axisLine:{show:true, onZero:false, lineStyle:{color:'#222', width:1.2}},
    axisTick:{show:true, inside:true, length:4, lineStyle:{color:'#222'}},
    axisLabel:{color:TXT, fontSize:18, fontFamily:FONT, margin:7, formatter:fmt, showMaxLabel:true, showMinLabel:true},
    splitLine:gridDots,
    nameLocation:'middle', nameRotate:90,
    nameTextStyle:{color:TXT, fontSize:21, fontFamily:FONT}
  }, opts||{});
}
const xName = {name:'Probe Frequency [kHz]', nameLocation:'middle', nameGap:40, nameTextStyle:{color:TXT, fontSize:21, fontFamily:FONT}};

const series = [];
function grayLines(curves, shades, xi) {
  curves.forEach((c, i) => series.push({type:'line', xAxisIndex:xi, yAxisIndex:xi, data:c, showSymbol:false, silent:true,
    lineStyle:{color:shades[i % shades.length], width:1.2}, z:2}));
}
function meanMarks(data, xi) {
  series.push({type:'scatter', xAxisIndex:xi, yAxisIndex:xi, data:data.map(d => [d[0], d[1]]), symbol:'rect', symbolSize:12, z:5,
    itemStyle:{color:'#fff', borderColor:'#dc2a1e', borderWidth:3}});
  series.push({type:'custom', xAxisIndex:xi, yAxisIndex:xi, data:data, z:6,
    renderItem:(p, api) => {
      const a = api.coord([api.value(0), api.value(2)]);
      const b = api.coord([api.value(0), api.value(3)]);
      return {type:'group', children:[
        {type:'line', shape:{x1:a[0], y1:a[1], x2:b[0], y2:b[1]}, style:{stroke:'#dc2a1e', lineWidth:2}},
        {type:'line', shape:{x1:a[0]-2, y1:a[1], x2:a[0]+2, y2:a[1]}, style:{stroke:'#dc2a1e', lineWidth:1.5}},
        {type:'line', shape:{x1:b[0]-2, y1:b[1], x2:b[0]+2, y2:b[1]}, style:{stroke:'#dc2a1e', lineWidth:1.5}}
      ]};
    }});
}

// Eublepharis magnitude (grid 0)
grayLines([eubMag1,eubMag2,eubMag3,eubMag4,eubMag5,eubMag6,eubMag7,eubMag8,eubMag9], eubMagShades, 0);
series.push({type:'line', xAxisIndex:0, yAxisIndex:0, data:eubNoise, showSymbol:false, smooth:true, lineStyle:{color:'#111', width:2.6, type:[9,6]}, z:4});
meanMarks(eubMagMean, 0);
// Eublepharis phase (grid 1)
grayLines([eubPh1,eubPh2,eubPh3,eubPh4,eubPh5,eubPh6,eubPh7,eubPh8,eubPh9], eubPhShades, 1);
series.push({type:'line', xAxisIndex:1, yAxisIndex:1, data:eubPhFit, showSymbol:false, smooth:true, lineStyle:{color:'#e0301e', width:6, type:[6,5]}, z:5});
// Coleonyx magnitude (grid 2)
grayLines([colMag1,colMag2,colMag3,colMag4,colMag5,colMag6,colMag7], colMagShades, 2);
series.push({type:'line', xAxisIndex:2, yAxisIndex:2, data:colNoise, showSymbol:false, smooth:true, lineStyle:{color:'#111', width:2.6, type:[9,6]}, z:4});
meanMarks(colMagMean, 2);
// Coleonyx phase (grid 3)
grayLines([colPh1,colPh2,colPh3,colPh4,colPh5,colPh6,colPh7], colPhShades, 3);
series.push({type:'line', xAxisIndex:3, yAxisIndex:3, data:colPhFit, showSymbol:false, smooth:true, lineStyle:{color:'#e0301e', width:6, type:[6,5]}, z:5});
// N Eublepharis (grid 4)
const eubNPoints = [];
eubNFreqs.forEach((f, i) => eubNValues[i].forEach(v => eubNPoints.push([f, v])));
series.push({type:'scatter', xAxisIndex:4, yAxisIndex:4, data:eubNPoints, symbolSize:7.5, z:2,
  itemStyle:{color:'rgba(70,170,105,0.62)', borderColor:'rgba(40,140,80,0.5)', borderWidth:1}});
series.push({type:'line', xAxisIndex:4, yAxisIndex:4, data:eubNUpper, showSymbol:false, smooth:true, lineStyle:{color:'#000', width:1.3}, z:4});
series.push({type:'line', xAxisIndex:4, yAxisIndex:4, data:eubNLower, showSymbol:false, smooth:true, lineStyle:{color:'#000', width:1.3}, z:4});
series.push({type:'line', xAxisIndex:4, yAxisIndex:4, data:eubNFit, showSymbol:false, smooth:true, lineStyle:{color:'#0b8a3b', width:6.5}, z:3});
// N Coleonyx (grid 5)
series.push({type:'scatter', xAxisIndex:5, yAxisIndex:5, data:colNPoints, symbolSize:8, z:2,
  itemStyle:{color:'rgba(198,112,92,0.68)', borderColor:'rgba(170,80,60,0.5)', borderWidth:1}});
series.push({type:'line', xAxisIndex:5, yAxisIndex:5, data:colNUpper, showSymbol:false, smooth:true, lineStyle:{color:'#000', width:1.3}, z:4});
series.push({type:'line', xAxisIndex:5, yAxisIndex:5, data:colNLower, showSymbol:false, smooth:true, lineStyle:{color:'#000', width:1.3}, z:4});
series.push({type:'line', xAxisIndex:5, yAxisIndex:5, data:colNFit, showSymbol:false, smooth:true, lineStyle:{color:'#9c2f10', width:6.5}, z:3});

const magFmt = v => (v % 20 === 0 ? String(v) : '');
const phFmt = v => (v > 0 ? '' : String(v));
const nFmt = v => (v === -5 ? '' : String(v));
const nName = '{n|N}{s|SFOAE}';
const nRich = {n:{fontFamily:'"Liberation Serif", "DejaVu Serif", serif', fontStyle:'italic', fontSize:32, color:TXT, verticalAlign:'bottom'},
               s:{fontFamily:'"Liberation Serif", "DejaVu Serif", serif', fontSize:17, color:TXT, verticalAlign:'bottom'}};

const option = {
  animation:false,
  backgroundColor:'#fff',
  title:[
    {text:'{i|Eublepharis macularius} (adult)', left:377, top:5, textAlign:'center',
     textStyle:{fontSize:26.5, fontWeight:'normal', fontFamily:FONT, color:TXT, rich:{i:{fontSize:26.5, fontStyle:'italic', fontFamily:FONT, color:TXT}}}},
    {text:'{i|Coleonyx variegatus}', left:1055, top:5, textAlign:'center',
     textStyle:{fontSize:26.5, fontWeight:'normal', fontFamily:FONT, color:TXT, rich:{i:{fontSize:26.5, fontStyle:'italic', fontFamily:FONT, color:TXT}}}},
    {text:'11 ears', left:140, top:565, textStyle:{fontSize:25, fontWeight:'bold', fontFamily:FONT, color:'#111'}},
    {text:'6 ears', left:833, top:569, textStyle:{fontSize:25, fontWeight:'bold', fontFamily:FONT, color:'#111'}}
  ],
  grid:[
    {left:78, top:58, width:544, height:179},
    {left:78, top:279, width:544, height:172},
    {left:768, top:60, width:545, height:178},
    {left:768, top:283, width:545, height:172},
    {left:125, top:556, width:472, height:373},
    {left:817, top:560, width:473, height:372}
  ],
  xAxis:[
    xAxis(0, 8, 1),
    xAxis(1, 8, 1, xName),
    xAxis(2, 8, 1),
    xAxis(3, 8, 1, Object.assign({}, xName, {nameGap:36})),
    xAxis(4, 5, 0.5, Object.assign({}, xName, {nameGap:41, axisLabel:{color:TXT, fontSize:18, fontFamily:FONT, margin:6, formatter:v => (v % 1 === 0 ? String(v) : '')}})),
    xAxis(5, 7, 1, Object.assign({}, xName, {nameGap:38, splitLine:{show:true, lineStyle:{color:'#b5b5b5', type:[2,2], width:1}}}))
  ],
  yAxis:[
    yAxis(0, -40, 20, 10, magFmt, {name:'Magnitude (dB SPL)', nameGap:49}),
    yAxis(1, -12, 1, 2, phFmt, {name:'Phase (cycles)', nameGap:49, splitLine:Object.assign({showMaxLine:false}, gridDots)}),
    yAxis(2, -40, 20, 10, magFmt, {name:'Magnitude (dB SPL)', nameGap:47}),
    yAxis(3, -12, 1, 2, phFmt, {name:'Phase (cycles)', nameGap:47, splitLine:Object.assign({showMaxLine:false}, gridDots)}),
    yAxis(4, -5, 14, null, nFmt, {splitNumber:10, name:nName, nameGap:44, nameTextStyle:{rich:nRich}}),
    yAxis(5, -5, 16, null, nFmt, {splitNumber:10, name:nName, nameGap:46, nameTextStyle:{rich:nRich}})
  ],
  series:series
};
const chart = echarts.init(document.getElementById('c'), null, {renderer:'canvas'});
chart.setOption(option);
</script>
</body></html>
